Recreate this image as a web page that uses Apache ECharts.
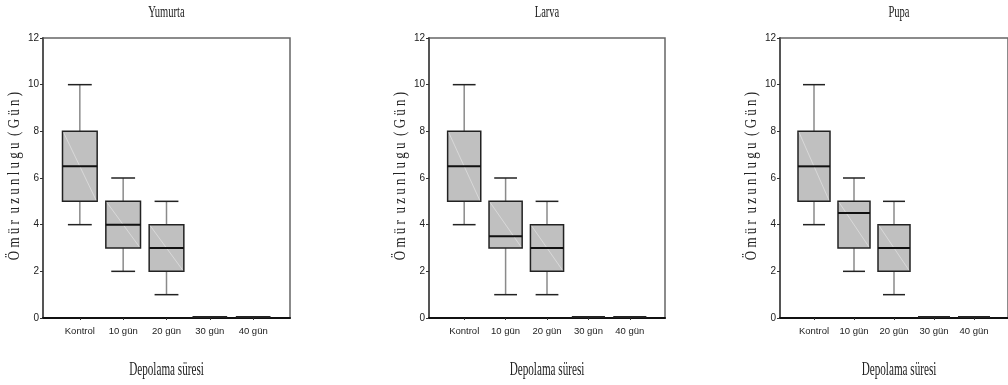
<!DOCTYPE html>
<html>
<head>
<meta charset="utf-8">
<title>Depolama süresi</title>
<script src="https://cdn.jsdelivr.net/npm/echarts@6.0.0/dist/echarts.min.js"></script>
<style>
  html, body { margin: 0; padding: 0; background: #fff; }
  #chart { width: 1008px; height: 385px; }
</style>
</head>
<body>
<div id="chart"></div>
<script>
// kategoriler ve kutu verileri: [min, Q1, medyan, Q3, max]
const categories = ["Kontrol", "10 gün", "20 gün", "30 gün", "40 gün"];
const panelTitles = ["Yumurta", "Larva", "Pupa"];
const yumurta = [[4, 5, 6.5, 8, 10], [2, 3, 4, 5, 6], [1, 2, 3, 4, 5], [0, 0, 0, 0, 0], [0, 0, 0, 0, 0]];
const larva = [[4, 5, 6.5, 8, 10], [1, 3, 3.5, 5, 6], [1, 2, 3, 4, 5], [0, 0, 0, 0, 0], [0, 0, 0, 0, 0]];
const pupa = [[4, 5, 6.5, 8, 10], [2, 3, 4.5, 5, 6], [1, 2, 3, 4, 5], [0, 0, 0, 0, 0], [0, 0, 0, 0, 0]];
const yTicks = [0, 2, 4, 6, 8, 10, 12];
const yAxisName = "Ö m ü r  u z u n l u g u  ( G ü n )";
const xAxisName = "Depolama süresi";

const panelData = [yumurta, larva, pupa];
// panel yerleşimi (piksel)
const panels = [
  { left: 43, width: 247 },
  { left: 429, width: 236 },
  { left: 780, width: 238 },
];
const gridTop = 38;
const gridHeight = 280;

const narrow = '"Liberation Sans Narrow", "Arial Narrow", "Liberation Sans", sans-serif';
const serif = '"Liberation Serif", "DejaVu Serif", serif';

const chart = echarts.init(document.getElementById("chart"), null, { renderer: "canvas" });

function renderBox(params, api) {
  const i = api.value(0);
  const band = api.size([1, 0])[0];
  const bw = band * 0.8;
  const cw = band * 0.55;
  const pMin = api.coord([i, api.value(1)]);
  const pQ1 = api.coord([i, api.value(2)]);
  const pMed = api.coord([i, api.value(3)]);
  const pQ3 = api.coord([i, api.value(4)]);
  const pMax = api.coord([i, api.value(5)]);
  const x = pMed[0];
  const line = (x1, y1, x2, y2, color, w) => ({
    type: "line",
    shape: { x1, y1, x2, y2 },
    style: { stroke: color, lineWidth: w },
  });
  const flat = pQ1[1] - pQ3[1] < 1;
  if (flat) {
    // sıfır değerli gruplar: eksen üzerinde kalın bir çizgi
    return line(x - bw / 2, pMed[1] - 1, x + bw / 2, pMed[1] - 1, "#222", 2);
  }
  return {
    type: "group",
    children: [
      // bıyıklar
      line(x, pQ1[1], x, pMin[1], "#8a8a8a", 1.5),
      line(x, pQ3[1], x, pMax[1], "#8a8a8a", 1.5),
      line(x - cw / 2, pMin[1], x + cw / 2, pMin[1], "#222", 1.5),
      line(x - cw / 2, pMax[1], x + cw / 2, pMax[1], "#222", 1.5),
      // kutu
      {
        type: "rect",
        shape: { x: x - bw / 2, y: pQ3[1], width: bw, height: pQ1[1] - pQ3[1] },
        style: { fill: "#c0c0c0", stroke: "#222", lineWidth: 1.5 },
      },
      line(x - bw / 2 + 1, pQ3[1] + 1, x + bw / 2 - 1, pQ1[1] - 1, "rgba(255,255,255,0.55)", 0.7),
      // medyan
      line(x - bw / 2, pMed[1], x + bw / 2, pMed[1], "#111", 2),
    ],
  };
}

const grid = [];
const xAxis = [];
const yAxis = [];
const series = [];
const graphic = [];

panels.forEach((p, k) => {
  grid.push({
    left: p.left,
    top: gridTop,
    width: p.width,
    height: gridHeight,
    show: true,
    borderColor: "#666",
    borderWidth: 1.5,
  });
  xAxis.push({
    type: "value",
    gridIndex: k,
    min: -0.85,
    max: 4.85,
    splitLine: { show: false },
    axisLine: { show: true, onZero: false, lineStyle: { color: "#111", width: 2 } },
    axisTick: { show: true, length: 2, customValues: [0, 1, 2, 3, 4], lineStyle: { color: "#333" } },
    axisLabel: {
      customValues: [0, 1, 2, 3, 4],
      formatter: (v) => categories[Math.round(v)],
      fontFamily: narrow,
      fontSize: 9.5,
      color: "#222",
      margin: 8,
    },
  });
  yAxis.push({
    type: "value",
    gridIndex: k,
    min: 0,
    max: 12,
    interval: 2,
    splitLine: { show: false },
    axisLine: { show: true, onZero: false, lineStyle: { color: "#555", width: 2 } },
    axisTick: { show: true, length: 3, lineStyle: { color: "#333" } },
    axisLabel: {
      formatter: (v) => (yTicks.includes(v) ? String(v) : ""),
      fontFamily: narrow,
      fontSize: 10,
      color: "#222",
      margin: 4,
    },
  });
  series.push({
    type: "custom",
    xAxisIndex: k,
    yAxisIndex: k,
    renderItem: renderBox,
    encode: { x: 0, y: [1, 2, 3, 4, 5] },
    data: panelData[k].map((d, i) => [i].concat(d)),
    silent: true,
    z: 1,
  });

  const cx = p.left + p.width / 2;
  // başlık
  graphic.push({
    type: "text",
    x: cx,
    y: 13,
    scaleX: 0.62,
    style: { text: panelTitles[k], font: "17px " + serif, fill: "#222", align: "center", verticalAlign: "middle" },
  });
  // x ekseni adı
  graphic.push({
    type: "text",
    x: cx,
    y: 370,
    scaleX: 0.62,
    style: { text: xAxisName, font: "18px " + serif, fill: "#222", align: "center", verticalAlign: "middle" },
  });
  // y ekseni adı
  graphic.push({
    type: "text",
    x: p.left - 28,
    y: 176,
    rotation: Math.PI / 2,
    scaleY: 1.3,
    style: { text: yAxisName, font: "13px " + serif, fill: "#222", align: "center", verticalAlign: "middle" },
  });
});

chart.setOption({
  backgroundColor: "#fff",
  animation: false,
  grid,
  xAxis,
  yAxis,
  series,
  graphic,
});
</script>
</body>
</html>
